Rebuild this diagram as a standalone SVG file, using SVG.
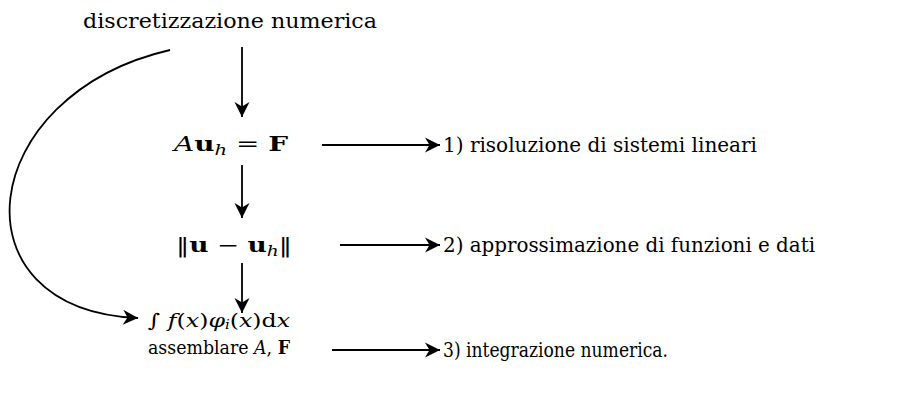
<svg xmlns="http://www.w3.org/2000/svg" width="902" height="394" viewBox="0 0 902 394">
<defs>
<marker id="ah" markerUnits="userSpaceOnUse" markerWidth="18" markerHeight="18" viewBox="-16 -9 18 18" refX="0" refY="0" orient="auto">
<path d="M0,0 L-15,-7.5 L-10.5,0 L-15,7.5 Z" fill="#000"/>
</marker>
<style>
.t{font-family:"DejaVu Serif Condensed","DejaVu Serif","Liberation Serif",serif;font-size:20px;fill:#000}
.s19{font-size:19px}
.it{font-style:italic}
.bf{font-weight:bold}
.sub{font-size:14px;font-style:italic}
.sub2{font-size:12px;font-style:italic}
.c{fill:none;stroke:#000;stroke-width:1.8;marker-end:url(#ah)}
</style>
</defs>
<rect width="902" height="394" fill="#fff"/>
<g class="t">
<g id="n-title"><text x="83" y="28" textLength="294" lengthAdjust="spacingAndGlyphs">discretizzazione numerica</text></g>
<g id="n-system"><text x="174" y="151" textLength="114" lengthAdjust="spacingAndGlyphs"><tspan class="it">A</tspan><tspan class="bf">u</tspan><tspan class="sub" dy="4">h</tspan><tspan dy="-4"> = </tspan><tspan class="bf">F</tspan></text></g>
<g id="n-norm"><text x="176" y="252" textLength="116" lengthAdjust="spacingAndGlyphs">‖<tspan class="bf">u</tspan> − <tspan class="bf">u</tspan><tspan class="sub" dy="4">h</tspan><tspan dy="-4">‖</tspan></text></g>
<g id="n-integral"><text class="s19" x="148" y="327" textLength="142" lengthAdjust="spacingAndGlyphs">∫ <tspan class="it">f</tspan>(<tspan class="it">x</tspan>)<tspan class="it">φ</tspan><tspan class="sub2" dy="2">i</tspan><tspan dy="-2">(</tspan><tspan class="it">x</tspan>)d<tspan class="it">x</tspan></text>
<text class="s19" x="148" y="354" textLength="142" lengthAdjust="spacingAndGlyphs">assemblare <tspan class="it">A</tspan>, <tspan class="bf">F</tspan></text></g>
<g id="n-l1"><text x="443" y="152" textLength="314" lengthAdjust="spacingAndGlyphs">1) risoluzione di sistemi lineari</text></g>
<g id="n-l2"><text x="443" y="252" textLength="372" lengthAdjust="spacingAndGlyphs">2) approssimazione di funzioni e dati</text></g>
<g id="n-l3"><text x="443" y="357" textLength="225" lengthAdjust="spacingAndGlyphs">3) integrazione numerica.</text></g>
</g>
<g id="connectors">
<path class="c" d="M242,47 V117"/>
<path class="c" d="M242,165 V218"/>
<path class="c" d="M242,263 V313"/>
<path class="c" d="M322,145 H440"/>
<path class="c" d="M340,245 H440"/>
<path class="c" d="M332,350 H440"/>
<path class="c" d="M170,50 C-25,95 -50,310 138,318"/>
</g>
</svg>
